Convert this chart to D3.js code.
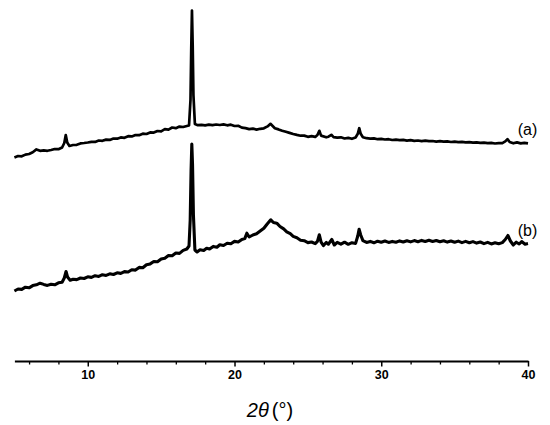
<!DOCTYPE html>
<html>
<head>
<meta charset="utf-8">
<script src="https://cdn.jsdelivr.net/npm/d3@7"></script>
<style>
  body { margin: 0; background: #fff; }
  svg { display: block; }
  .tick text { font-family: Arial, "Liberation Sans", sans-serif; font-weight: bold; font-size: 12.5px; }
</style>
</head>
<body>
<div id="Diagram"></div>
<script>
// x axis ticks (2 theta, degrees)
var majorTicks = [10, 20, 30, 40];
var minorTicks = [6, 8, 12, 14, 16, 18, 22, 24, 26, 28, 32, 34, 36, 38];
var seriesLabels = ["(a)", "(b)"];

// pattern (a): [2theta, intensity a.u.] (stacked, offset included)
var patternA = [
  [5.00, 2025], [5.25, 2040], [5.50, 2037], [5.75, 2054], [6.00, 2060], [6.25, 2078],
  [6.50, 2106], [6.75, 2092], [7.00, 2096], [7.25, 2092], [7.50, 2100], [7.75, 2110],
  [8.00, 2108], [8.25, 2125], [8.40, 2170], [8.50, 2250], [8.60, 2175], [8.75, 2140],
  [9.00, 2150], [9.25, 2152], [9.50, 2166], [9.75, 2170], [10.00, 2175], [10.25, 2182],
  [10.50, 2181], [10.75, 2195], [11.00, 2192], [11.25, 2204], [11.50, 2201], [11.75, 2215],
  [12.00, 2213], [12.25, 2226], [12.50, 2222], [12.75, 2238], [13.00, 2236], [13.25, 2250],
  [13.50, 2248], [13.75, 2263], [14.00, 2260], [14.25, 2276], [14.50, 2274], [14.75, 2290],
  [15.00, 2287], [15.25, 2308], [15.50, 2304], [15.75, 2325], [16.00, 2318], [16.25, 2334],
  [16.50, 2330], [16.75, 2340], [16.90, 2345], [17.00, 2600], [17.05, 3100], [17.10, 3495],
  [17.15, 3150], [17.20, 2650], [17.30, 2360], [17.50, 2348], [17.75, 2352], [18.00, 2346],
  [18.25, 2354], [18.50, 2349], [18.75, 2355], [19.00, 2350], [19.25, 2356], [19.50, 2347],
  [19.75, 2353], [20.00, 2340], [20.25, 2342], [20.50, 2324], [20.75, 2319], [21.00, 2309],
  [21.25, 2314], [21.50, 2304], [21.75, 2312], [22.00, 2317], [22.25, 2336], [22.45, 2362],
  [22.75, 2318], [23.00, 2306], [23.25, 2293], [23.50, 2282], [23.75, 2271], [24.00, 2260],
  [24.25, 2251], [24.50, 2243], [24.75, 2244], [25.00, 2232], [25.25, 2238], [25.50, 2231],
  [25.65, 2250], [25.78, 2292], [25.90, 2244], [26.25, 2227], [26.40, 2233], [26.60, 2252],
  [26.75, 2229], [27.00, 2224], [27.25, 2227], [27.50, 2215], [27.75, 2221], [28.00, 2212],
  [28.25, 2225], [28.40, 2262], [28.50, 2318], [28.60, 2262], [28.75, 2228], [29.00, 2218],
  [29.25, 2214], [29.50, 2216], [29.75, 2208], [30.00, 2211], [30.25, 2205], [30.50, 2208],
  [30.75, 2200], [31.00, 2203], [31.25, 2199], [31.50, 2201], [31.75, 2194], [32.00, 2198],
  [32.25, 2192], [32.50, 2195], [32.75, 2189], [33.00, 2193], [33.25, 2188], [33.50, 2190],
  [33.75, 2184], [34.00, 2188], [34.25, 2183], [34.50, 2186], [34.75, 2180], [35.00, 2184],
  [35.25, 2178], [35.50, 2182], [35.75, 2176], [36.00, 2179], [36.25, 2174], [36.50, 2177],
  [36.75, 2171], [37.00, 2174], [37.25, 2168], [37.50, 2171], [37.75, 2165], [38.00, 2168],
  [38.25, 2169], [38.45, 2186], [38.60, 2208], [38.75, 2180], [39.00, 2167], [39.25, 2176],
  [39.50, 2166], [39.75, 2172], [40.00, 2166]
];

// pattern (b)
var patternB = [
  [5.00, 690], [5.25, 710], [5.50, 706], [5.75, 728], [6.00, 722], [6.25, 744],
  [6.50, 752], [6.75, 768], [7.00, 756], [7.25, 746], [7.50, 758], [7.75, 752],
  [8.00, 772], [8.25, 778], [8.40, 820], [8.52, 885], [8.62, 830], [8.80, 798],
  [9.00, 808], [9.25, 804], [9.50, 820], [9.75, 815], [10.00, 832], [10.25, 826],
  [10.50, 843], [10.75, 836], [11.00, 853], [11.25, 846], [11.50, 862], [11.75, 855],
  [12.00, 872], [12.25, 866], [12.50, 884], [12.75, 880], [13.00, 903], [13.25, 899],
  [13.50, 926], [13.75, 922], [14.00, 953], [14.25, 961], [14.50, 985], [14.75, 982],
  [15.00, 1010], [15.25, 1018], [15.50, 1045], [15.75, 1042], [16.00, 1070], [16.25, 1066],
  [16.50, 1096], [16.75, 1110], [16.90, 1140], [16.98, 1400], [17.04, 1900], [17.09, 2160],
  [17.14, 1950], [17.20, 1450], [17.30, 1100], [17.45, 1080], [17.65, 1102], [17.90, 1095],
  [18.10, 1118], [18.30, 1110], [18.55, 1136], [18.80, 1128], [19.00, 1153], [19.25, 1145],
  [19.50, 1168], [19.75, 1162], [20.00, 1186], [20.25, 1180], [20.50, 1206], [20.70, 1214],
  [20.84, 1268], [21.00, 1230], [21.25, 1250], [21.50, 1262], [21.75, 1290], [22.00, 1317],
  [22.20, 1355], [22.47, 1402], [22.65, 1375], [22.88, 1368], [23.10, 1335], [23.35, 1311],
  [23.56, 1282], [23.80, 1263], [24.00, 1236], [24.25, 1222], [24.50, 1198], [24.75, 1193],
  [25.00, 1174], [25.25, 1180], [25.50, 1164], [25.65, 1186], [25.78, 1252], [25.90, 1178],
  [26.06, 1144], [26.25, 1176], [26.40, 1158], [26.63, 1205], [26.80, 1150], [27.00, 1176],
  [27.25, 1158], [27.50, 1178], [27.75, 1157], [28.00, 1173], [28.25, 1166], [28.40, 1240],
  [28.49, 1308], [28.60, 1250], [28.75, 1194], [29.00, 1176], [29.25, 1186], [29.50, 1172],
  [29.75, 1188], [30.00, 1178], [30.25, 1190], [30.50, 1176], [30.75, 1186], [31.00, 1177],
  [31.25, 1191], [31.50, 1180], [31.75, 1193], [32.00, 1181], [32.25, 1194], [32.50, 1183],
  [32.75, 1196], [33.00, 1185], [33.25, 1197], [33.50, 1186], [33.75, 1195], [34.00, 1182],
  [34.25, 1192], [34.50, 1179], [34.75, 1190], [35.00, 1177], [35.25, 1189], [35.50, 1174],
  [35.75, 1186], [36.00, 1172], [36.25, 1184], [36.50, 1169], [36.75, 1180], [37.00, 1164],
  [37.25, 1176], [37.50, 1161], [37.75, 1172], [38.00, 1162], [38.25, 1174], [38.45, 1205],
  [38.63, 1245], [38.80, 1190], [39.00, 1150], [39.20, 1178], [39.40, 1160], [39.57, 1184],
  [39.80, 1158], [40.00, 1164]
];

var width = 550, height = 425;

var svg = d3.select("#Diagram")
  .append("svg")
    .attr("width", width)
    .attr("height", height);

// scales
var x = d3.scaleLinear()
  .domain([5, 40])
  .range([14.4, 528]);
var y = d3.scaleLinear()
  .domain([0, 3600])
  .range([360, 0]);

var axisY = 361;

// minor ticks first (short), then major axis with labels
svg.append("g")
  .attr("transform", "translate(0," + axisY + ")")
  .call(d3.axisBottom(x).tickValues(minorTicks).tickSize(3.5).tickFormat(""))
  .call(function (g) { g.select(".domain").remove(); })
  .selectAll("line").attr("stroke-width", 1.3);

var xAxis = svg.append("g")
  .attr("transform", "translate(0," + axisY + ")")
  .call(d3.axisBottom(x).tickValues(majorTicks).tickSize(5.5).tickSizeOuter(0).tickPadding(4)
        .tickFormat(d3.format("d")));
xAxis.select(".domain").attr("stroke-width", 2);
xAxis.selectAll(".tick line").attr("stroke-width", 1.5);
xAxis.selectAll(".tick text").attr("fill", "#000");

// axis title
var title = svg.append("text")
  .attr("x", 270)
  .attr("y", 417)
  .attr("text-anchor", "middle")
  .style("font-family", "Arial, 'Liberation Sans', sans-serif")
  .style("font-size", "20px");
title.append("tspan").style("font-style", "italic").text("2θ");
title.append("tspan").attr("dx", 3).text("(°)");

// patterns
var line = d3.line()
  .x(function (d) { return x(d[0]); })
  .y(function (d) { return y(d[1]); });

svg.append("path")
  .datum(patternA)
  .attr("fill", "none")
  .attr("stroke", "#000")
  .attr("stroke-width", 2.7)
  .attr("stroke-linejoin", "round")
  .attr("d", line);

svg.append("path")
  .datum(patternB)
  .attr("fill", "none")
  .attr("stroke", "#000")
  .attr("stroke-width", 3.1)
  .attr("stroke-linejoin", "round")
  .attr("d", line);

// series labels, placed above the end of each curve
var labelPos = [[39.3, 2250], [39.3, 1236]];
svg.selectAll(".lbl")
  .data(seriesLabels)
  .enter()
  .append("text")
  .attr("class", "lbl")
  .attr("x", function (d, i) { return x(labelPos[i][0]); })
  .attr("y", function (d, i) { return y(labelPos[i][1]); })
  .style("font-family", "Arial, 'Liberation Sans', sans-serif")
  .style("font-size", "16px")
  .text(function (d) { return d; });
</script>
</body>
</html>
